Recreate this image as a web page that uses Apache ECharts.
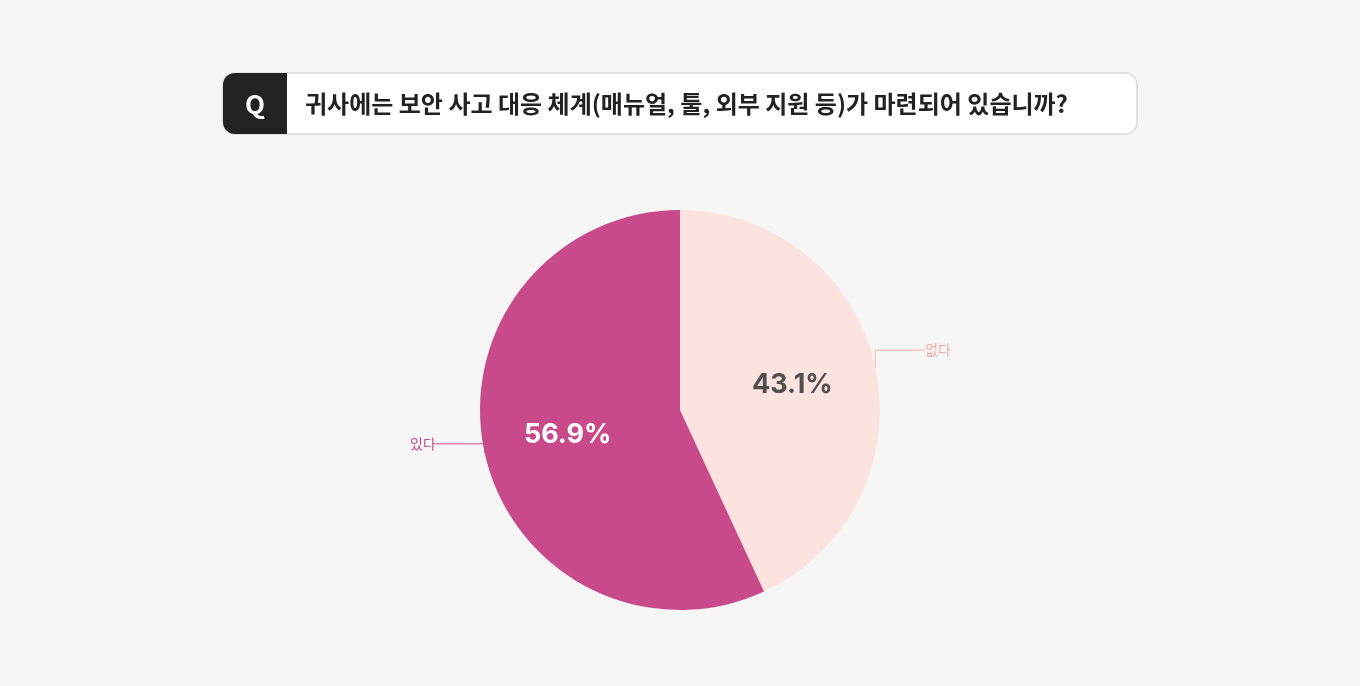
<!DOCTYPE html>
<html>
<head>
<meta charset="utf-8">
<script src="https://cdn.jsdelivr.net/npm/echarts@6/dist/echarts.min.js"></script>
<style>
  html, body { margin: 0; padding: 0; background: #f6f6f6; }
  #chart { width: 1360px; height: 686px; }
</style>
</head>
<body>
<div id="chart"></div>
<script>
var question = '귀사에는 보안 사고 대응 체계(매뉴얼, 툴, 외부 지원 등)가 마련되어 있습니까?';
var names = ['없다', '있다'];
var values = [43.1, 56.9];
var colors = ['#fde3df', '#c94a8a'];
var nameColors = ['#f2aaa0', '#c94a8a'];
var pctColors = ['#505050', '#ffffff'];

var chart = echarts.init(document.getElementById('chart'));
var lineEnds = {};
var font = '"Noto Sans CJK KR", "Noto Sans", sans-serif';

var pieData = names.map(function (n, i) {
    return {
        name: n, value: values[i],
        itemStyle: { color: colors[i] },
        label: { color: nameColors[i] },
        labelLine: { lineStyle: { color: i === 0 ? '#f3b8a8' : '#c94a8a' } }
    };
});
var innerData = names.map(function (n, i) {
    return { name: n, value: values[i], label: { color: pctColors[i] } };
});

var option = {
    backgroundColor: '#f6f6f6',
    animation: false,
    graphic: [
        { type: 'rect', shape: { x: 223, y: 73, width: 914, height: 61, r: 12 },
          style: { fill: '#ffffff', stroke: '#dadada', lineWidth: 1.5 } },
        { type: 'rect', shape: { x: 223, y: 73, width: 64, height: 61, r: [12, 0, 0, 12] },
          style: { fill: '#222222' } },
        { type: 'text', x: 255, y: 104, style: { text: 'Q', fill: '#fff', font: 'bold 26px ' + font,
          align: 'center', verticalAlign: 'middle' } },
        { type: 'text', x: 305, y: 104, style: { text: question, fill: '#222', font: 'bold 24px ' + font,
          verticalAlign: 'middle' } }
    ],
    series: [{
        type: 'pie',
        center: [680, 410],
        radius: 200,
        startAngle: 90,
        data: pieData,
        label: { formatter: '{b}', fontSize: 14, fontFamily: font },
        labelLine: { length: 18, length2: 60, lineStyle: { width: 1 } },
        labelLayout: function (p) {
            var pts = p.labelLinePoints;
            if (!pts) return {};
            var end = pts[2];
            var right = end[0] > 680;
            lineEnds[p.dataIndex] = end;
            return {
                x: end[0] + (right ? -2 : 3),
                y: end[1] - 13,
                align: right ? 'right' : 'left',
                verticalAlign: 'middle'
            };
        }
    }, {
        type: 'pie',
        center: [680, 410],
        radius: 224,
        startAngle: 90,
        silent: true,
        itemStyle: { color: 'transparent' },
        data: innerData,
        label: { position: 'inside', formatter: '{d}%', fontSize: 27, fontWeight: 'bold',
                 fontFamily: 'Inter, "Noto Sans", sans-serif' },
        labelLine: { show: false }
    }]
};
chart.setOption(option);

var dotsAdded = false;
chart.on('finished', function () {
    if (dotsAdded) return;
    dotsAdded = true;
    var g = option.graphic.slice();
    Object.keys(lineEnds).forEach(function (k) {
        var e = lineEnds[k];
        g.push({ type: 'circle', shape: { cx: e[0], cy: e[1], r: 2.5 },
                 style: { fill: k === '0' ? '#f3b8a8' : '#c94a8a' } });
    });
    chart.setOption({ graphic: g }, { replaceMerge: ['graphic'] });
});
</script>
</body>
</html>
